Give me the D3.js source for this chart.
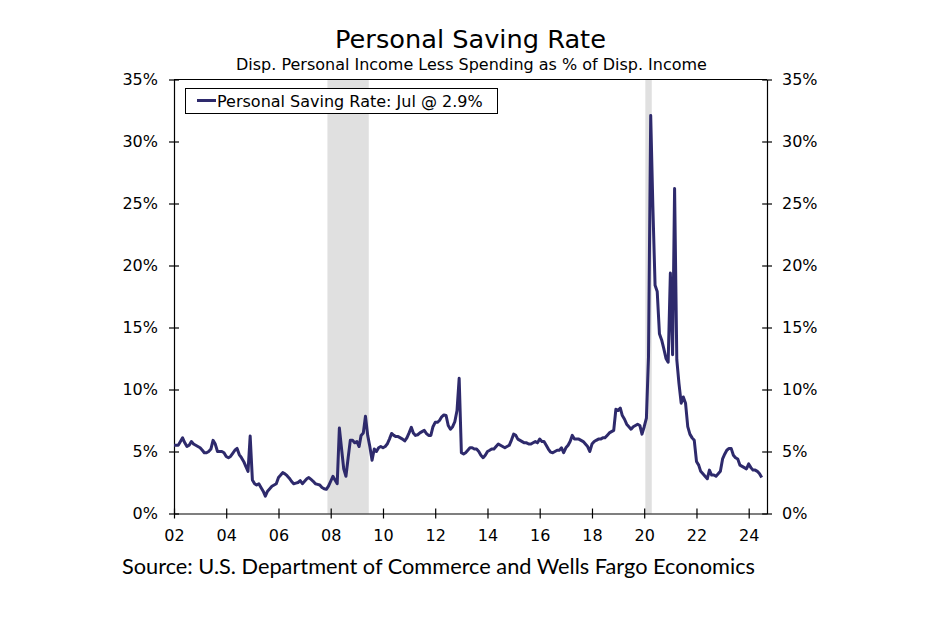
<!DOCTYPE html>
<html><head><meta charset="utf-8">
<script src="https://cdn.jsdelivr.net/npm/d3@7"></script>
<style>body{margin:0;background:#fff} svg{display:block}</style>
</head><body><svg id="c" width="950" height="630"></svg>
<script>
const titleText = "Personal Saving Rate";
const subtitleText = "Disp. Personal Income Less Spending as % of Disp. Income";
const legendLabel = "Personal Saving Rate: Jul @ 2.9%";
const sourceText = "Source: U.S. Department of Commerce and Wells Fargo Economics";
const startMonth = "2002-01";

// monthly personal saving rate (%), Jan 2002 onwards
const rate2002_2007 = [
 5.5,5.5,5.5,5.8,6.1,5.7,5.4,5.5,5.8,5.6,5.5,5.4,
 5.3,5.1,4.9,4.9,5.0,5.2,5.9,5.6,5.0,5.0,5.0,4.9,
 4.6,4.5,4.6,4.85,5.1,5.25,4.75,4.5,4.2,3.8,3.4,6.25,
 2.7,2.4,2.3,2.4,2.1,1.8,1.4,1.8,2.0,2.2,2.3,2.4,
 2.9,3.1,3.3,3.2,3.05,2.85,2.6,2.4,2.45,2.5,2.65,2.4,
 2.6,2.8,2.9,2.75,2.6,2.4,2.35,2.3,2.1,2.0,1.95,2.2];
const rate2008_2013 = [
 2.6,3.0,2.7,2.4,6.9,5.2,3.6,3.0,4.5,5.9,5.9,5.7,
 5.8,5.4,6.3,6.5,7.85,6.3,5.4,4.3,5.2,5.0,5.3,5.4,
 5.3,5.4,5.6,6.0,6.45,6.3,6.2,6.2,6.1,6.0,5.85,6.1,
 6.5,6.95,6.5,6.3,6.35,6.5,6.6,6.7,6.45,6.3,6.3,7.0,
 7.35,7.35,7.5,7.8,7.95,7.9,7.1,6.8,7.0,7.4,8.3,10.9,
 4.9,4.8,4.9,5.1,5.3,5.3,5.2,5.2,5.0,4.7,4.5,4.7];
const rate2014_2019 = [
 5.0,5.1,5.2,5.2,5.4,5.6,5.5,5.4,5.3,5.4,5.5,5.9,
 6.4,6.3,6.0,5.9,5.8,5.7,5.7,5.6,5.6,5.7,5.8,5.7,
 6.0,5.8,5.8,5.5,5.2,4.95,4.9,5.0,5.1,5.1,5.3,4.9,
 5.3,5.5,5.8,6.3,6.0,6.0,6.0,5.9,5.8,5.6,5.4,5.0,
 5.6,5.8,5.9,6.0,6.0,6.1,6.1,6.3,6.5,6.6,6.7,8.4,
 8.3,8.5,7.9,7.6,7.2,7.0,6.8,7.0,7.1,7.2,7.1,6.4];
const rate2020_2024 = [
 7.0,7.7,12.6,32.1,24.8,18.4,17.9,14.5,14.0,13.3,12.5,12.2,
 19.4,12.8,26.2,12.4,10.5,8.9,9.4,8.9,7.0,6.4,6.1,5.9,
 4.2,3.9,3.4,3.2,3.0,2.8,3.5,3.1,3.1,3.0,3.2,3.4,
 4.4,4.8,5.1,5.25,5.25,4.7,4.5,4.4,3.9,3.8,3.7,3.6,
 4.0,3.7,3.5,3.5,3.4,3.2,2.9];

const recessions = [["2007-12","2009-06"],["2020-02","2020-04"]];
const yTicks = [0,5,10,15,20,25,30,35];
const xTickYears = [2002,2004,2006,2008,2010,2012,2014,2016,2018,2020,2022,2024];

const values = [].concat(rate2002_2007, rate2008_2013, rate2014_2019, rate2020_2024);
const parse = d3.timeParse("%Y-%m");
const start = parse(startMonth);
const data = values.map((v,i)=>({date: d3.timeMonth.offset(start,i), value: v}));

const svg = d3.select("#c");
const L = 174, R = 767, T = 79.5, B = 513.5;
const x = d3.scaleTime().domain([start, new Date(2024,8,13)]).range([L,R]);
const y = d3.scaleLinear().domain([0,35]).range([B,T]);
const FONT = "'DejaVu Sans', Verdana, sans-serif";

// recession shading
svg.append("g").selectAll("rect").data(recessions).join("rect")
  .attr("x", d => x(d3.timeDay.offset(parse(d[0]), -15)))
  .attr("width", d => x(d3.timeDay.offset(parse(d[1]), 15)) - x(d3.timeDay.offset(parse(d[0]), -15)))
  .attr("y", T).attr("height", B - T)
  .attr("fill", "#e0e0e0");

// axes
function styleAxis(g, cross) {
  g.select(".domain").attr("stroke", "#000").attr("stroke-width", 1.2);
  g.selectAll(".tick line").attr("stroke", "#000").attr("stroke-width", 1.2).each(function(){
    const l = d3.select(this);
    if (cross === "h") l.attr("x1", -5).attr("x2", 5);
    else l.attr("y1", -5).attr("y2", 5);
  });
  g.selectAll("text").attr("font-family", FONT).attr("font-size", 16).attr("fill", "#000");
}
const yFmt = d => d + "%";
svg.append("g").attr("transform", `translate(${L},0)`)
  .call(d3.axisLeft(y).tickValues(yTicks).tickFormat(yFmt).tickSize(5).tickSizeOuter(0).tickPadding(11))
  .call(g => styleAxis(g, "h"));
svg.append("g").attr("transform", `translate(${R},0)`)
  .call(d3.axisRight(y).tickValues(yTicks).tickFormat(yFmt).tickSize(5).tickSizeOuter(0).tickPadding(10))
  .call(g => styleAxis(g, "h"));
svg.append("g").attr("transform", `translate(0,${B})`)
  .call(d3.axisBottom(x).tickValues(xTickYears.map(yr => new Date(yr,0,1))).tickFormat(d3.timeFormat("%y")).tickSize(5).tickSizeOuter(0).tickPadding(11))
  .call(g => styleAxis(g, "v"));
// top frame
svg.append("line").attr("x1", L).attr("x2", R).attr("y1", T).attr("y2", T)
  .attr("stroke", "#000").attr("stroke-width", 1.2);

// line
svg.append("path").datum(data)
  .attr("fill", "none").attr("stroke", "#2e2a6c").attr("stroke-width", 3)
  .attr("stroke-linejoin", "round")
  .attr("d", d3.line().x(d => x(d.date)).y(d => y(d.value)));

// legend
const lg = svg.append("g");
lg.append("rect").attr("x", 185.5).attr("y", 88.5).attr("width", 312).attr("height", 25)
  .attr("fill", "#fff").attr("stroke", "#000").attr("stroke-width", 1);
lg.append("line").attr("x1", 197).attr("x2", 216).attr("y1", 100.5).attr("y2", 100.5)
  .attr("stroke", "#2e2a6c").attr("stroke-width", 3);
lg.append("text").attr("x", 217).attr("y", 106.5).attr("font-family", FONT).attr("font-size", 16)
  .attr("fill", "#000").text(legendLabel);

function fit(sel, target) {
  const w = sel.node().getComputedTextLength();
  const fs = parseFloat(sel.attr("font-size"));
  sel.attr("font-size", (fs * target / w).toFixed(2));
}
const t = svg.append("text").attr("x", 470.5).attr("y", 48).attr("text-anchor", "middle")
  .attr("font-family", FONT).attr("font-size", 25).attr("fill", "#000").text(titleText);
fit(t, 271);
const st = svg.append("text").attr("x", 471.5).attr("y", 70).attr("text-anchor", "middle")
  .attr("font-family", FONT).attr("font-size", 15).attr("fill", "#000").text(subtitleText);
fit(st, 471);
const src = svg.append("text").attr("x", 122).attr("y", 574)
  .attr("font-family", "Lato, 'Open Sans', sans-serif").attr("font-size", 21).attr("fill", "#000").text(sourceText);
fit(src, 633);
</script></body></html>
